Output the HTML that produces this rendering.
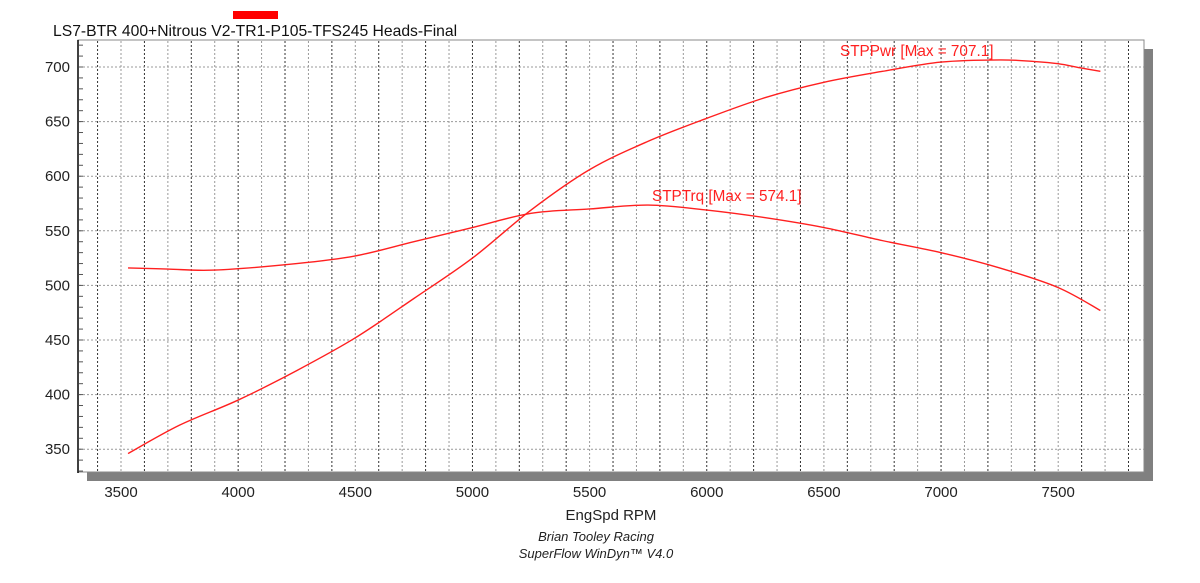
<!DOCTYPE html>
<html><head><meta charset="utf-8"><style>
body{margin:0;background:#fff;width:1200px;height:578px;overflow:hidden}
svg text{font-family:"Liberation Sans",Arial,sans-serif}
</style></head><body>
<svg id="s" width="1200" height="578" xmlns="http://www.w3.org/2000/svg">
<rect x="233" y="11" width="45" height="8" fill="#ff0000"/>
<text x="53" y="36" font-size="15.7" fill="#111">LS7-BTR 400+Nitrous V2-TR1-P105-TFS245 Heads-Final</text>
<rect x="87" y="472" width="1066" height="9" fill="#808080"/>
<rect x="1144" y="49" width="9" height="432" fill="#808080"/>
<rect x="78" y="40" width="1066" height="432" fill="#fff" stroke="#888" stroke-width="1"/>
<g id="grid"></g>
<line x1="78" y1="40" x2="78" y2="473" stroke="#000" stroke-width="1.5"/>
<g id="lbl" font-size="15" fill="#222"></g>
<g id="curves" fill="none" stroke="#ff2020" stroke-width="1.4" stroke-linejoin="round"></g>
<text x="840" y="56" font-size="15.3" fill="#ff2020">STPPwr [Max = 707.1]</text>
<text x="652" y="201" font-size="15.3" fill="#ff2020">STPTrq [Max = 574.1]</text>
<text x="611" y="520" font-size="15" fill="#222" text-anchor="middle">EngSpd RPM</text>
<text x="596" y="541" font-size="13" font-style="italic" fill="#222" text-anchor="middle">Brian Tooley Racing</text>
<text x="596" y="558" font-size="13" font-style="italic" fill="#222" text-anchor="middle">SuperFlow WinDyn™  V4.0</text>
</svg>
<script>
const X=r=>121+(r-3500)*0.2343, Y=v=>67+(700-v)*1.092;
const ns="http://www.w3.org/2000/svg";
function el(p,t,a,txt){const e=document.createElementNS(ns,t);for(const k in a)e.setAttribute(k,a[k]);if(txt)e.textContent=txt;document.getElementById(p).appendChild(e);}
for(let r=3400;r<=7800;r+=100){const x=X(r);el("grid","line",{x1:x,y1:41,x2:x,y2:472,stroke:(r%200==0)?"#333":"#999","stroke-width":1,"stroke-dasharray":"2,2"});}
for(let v=350;v<=700;v+=50){const y=Y(v);el("grid","line",{x1:79,y1:y,x2:1144,y2:y,stroke:"#999","stroke-width":1,"stroke-dasharray":"2,2"});el("lbl","text",{x:70,y:y+5,"text-anchor":"end"},String(v));}
for(let v=330;v<=720;v+=10){const y=Y(v);el("grid","line",{x1:79,y1:y,x2:83,y2:y,stroke:"#555","stroke-width":1});}
for(let r=3500;r<=7500;r+=500){el("lbl","text",{x:X(r),y:497,"text-anchor":"middle"},String(r));}
const P=[[3530,346],[3750,372],[4000,395],[4250,422],[4500,452],[4750,488],[5000,525],[5250,569],[5500,606],[5750,632],[6000,653],[6250,672],[6500,686],[6750,696],[7000,704.5],[7250,706.5],[7400,705],[7500,703],[7600,699],[7680,696]];
const T=[[3530,516],[3700,515],[3900,514],[4250,520],[4500,527],[4750,540],[5000,553],[5250,566],[5500,570],[5750,573.6],[6000,569],[6250,562],[6500,553],[6750,541],[7000,530],[7250,516],[7500,498],[7680,477]];
function path(pts){const p=pts.map(q=>[X(q[0]),Y(q[1])]);let d="M"+p[0][0]+","+p[0][1];
for(let i=0;i<p.length-1;i++){const p0=p[i-1]||p[i],p1=p[i],p2=p[i+1],p3=p[i+2]||p2;
const c1=[p1[0]+(p2[0]-p0[0])/6,p1[1]+(p2[1]-p0[1])/6],c2=[p2[0]-(p3[0]-p1[0])/6,p2[1]-(p3[1]-p1[1])/6];
d+="C"+c1.join(",")+" "+c2.join(",")+" "+p2.join(",");}return d;}
el("curves","path",{d:path(P)});el("curves","path",{d:path(T)});
</script>
</body></html>
